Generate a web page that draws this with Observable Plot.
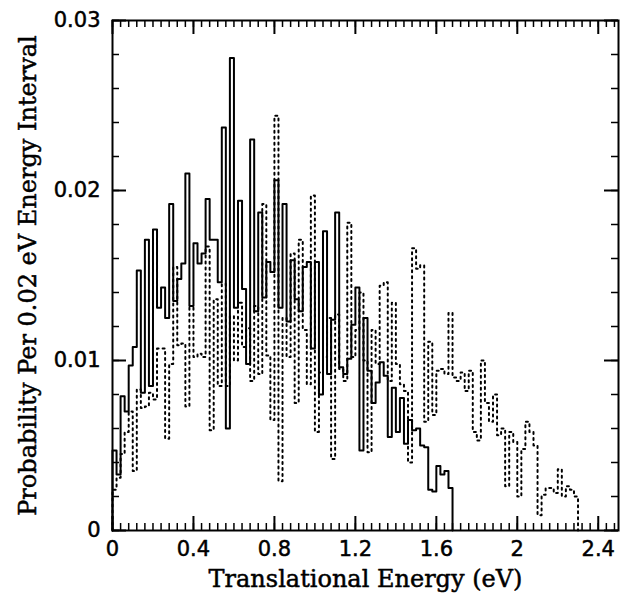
<!DOCTYPE html>
<html>
<head>
<meta charset="utf-8">
<script src="https://cdn.jsdelivr.net/npm/d3@7"></script>
<script src="https://cdn.jsdelivr.net/npm/@observablehq/plot@0.6"></script>
<style>
  html, body { margin: 0; padding: 0; background: #fff; }
</style>
</head>
<body>
<div id="chart"></div>
<script>
// Bin width (eV) of both histograms
const binWidth = 0.02;

// Solid histogram: probability per 0.02 eV bin, bins starting at 0, 0.02, 0.04 ...
const solidValues = [
  0.0047, 0.0033, 0.0079, 0.0070, 0.0097, 0.0108, 0.0153, 0.0081, 0.0171, 0.0085,
  0.0177, 0.0131, 0.0143, 0.0125, 0.0192, 0.0135, 0.0148, 0.0157, 0.0210, 0.0132,
  0.0169, 0.0157, 0.0163, 0.0195, 0.0171, 0.0171, 0.0146, 0.0237, 0.0060, 0.0278,
  0.0131, 0.0194, 0.0142, 0.0098, 0.0230, 0.0129, 0.0187, 0.0137, 0.0158, 0.0152,
  0.0206, 0.0131, 0.0192, 0.0123, 0.0159, 0.0136, 0.0129, 0.0155, 0.0158, 0.0107,
  0.0158, 0.0080, 0.0176, 0.0092, 0.0124, 0.0187, 0.0096, 0.0092, 0.0101, 0.0121,
  0.0143, 0.0047, 0.0125, 0.0094, 0.0075, 0.0087, 0.0099, 0.0091, 0.0055, 0.0084,
  0.0058, 0.0078, 0.0051, 0.0065, 0.0059, 0.0060, 0.0050, 0.0049, 0.0024, 0.0023,
  0.0038, 0.0033, 0.0035, 0.0025
];

// Dotted histogram: probability per 0.02 eV bin
const dottedValues = [
  0.0024, 0.0031, 0.0045, 0.0058, 0.0070, 0.0035, 0.0083, 0.0072, 0.0073, 0.0081,
  0.0077, 0.0107, 0.0107, 0.0054, 0.0098, 0.0155, 0.0109, 0.0110, 0.0073, 0.0131,
  0.0102, 0.0104, 0.0102, 0.0167, 0.0059, 0.0136, 0.0085, 0.0145, 0.0085, 0.0126,
  0.0100, 0.0134, 0.0108, 0.0119, 0.0088, 0.0132, 0.0092, 0.0192, 0.0103, 0.0065,
  0.0244, 0.0029, 0.0125, 0.0102, 0.0163, 0.0075, 0.0171, 0.0118, 0.0086, 0.0197,
  0.0058, 0.0093, 0.0102, 0.0125, 0.0042, 0.0127, 0.0095, 0.0088, 0.0181, 0.0102,
  0.0118, 0.0140, 0.0100, 0.0046, 0.0118, 0.0098, 0.0144, 0.0146, 0.0088, 0.0134,
  0.0098, 0.0086, 0.0082, 0.0040, 0.0166, 0.0154, 0.0156, 0.0064, 0.0111, 0.0068,
  0.0094, 0.0095, 0.0092, 0.0128, 0.0090, 0.0088, 0.0093, 0.0082, 0.0094, 0.0058,
  0.0053, 0.0100, 0.0075, 0.0064, 0.0080, 0.0056, 0.0060, 0.0026, 0.0058, 0.0052,
  0.0020, 0.0048, 0.0064, 0.0058, 0.0050, 0.0009, 0.0021, 0.0025, 0.0025, 0.0022,
  0.0036, 0.0020, 0.0026, 0.0024, 0.0020
];

// Axis ticks and labels
const xMajorTicks = [0, 0.4, 0.8, 1.2, 1.6, 2, 2.4];
const xMajorLabels = ["0", "0.4", "0.8", "1.2", "1.6", "2", "2.4"];
const xMinorTicks = d3.range(0, 63).map(i => +(i * 0.04).toFixed(2));
const yMajorTicks = [0, 0.01, 0.02, 0.03];
const yMajorLabels = ["0", "0.01", "0.02", "0.03"];
const yMinorTicks = d3.range(0, 16).map(i => +(i * 0.002).toFixed(3));

const xTitle = "Translational Energy (eV)";
const yTitle = "Probability Per 0.02 eV Energy Interval";

// Build step-outline points for a histogram
function steps(values) {
  const pts = [{x: 0, y: 0}];
  values.forEach((v, i) => pts.push({x: i * binWidth, y: v}));
  const end = values.length * binWidth;
  pts.push({x: end, y: values[values.length - 1]});
  pts.push({x: end, y: 0});
  return pts;
}

const W = 621, H = 595;
const mL = 112, mR = 3, mT = 20, mB = 65;
const frameH = H - mT - mB;   // 510
const frameW = W - mL - mR;   // 506
const majorLen = 14, minorLen = 7;

const labelStyle = {fill: "#000", stroke: "#000", strokeWidth: 0.5};

const chart = Plot.plot({
  width: W,
  height: H,
  marginLeft: mL,
  marginRight: mR,
  marginTop: mT,
  marginBottom: mB,
  x: {domain: [0, 2.5], axis: null},
  y: {domain: [0, 0.03], axis: null},
  style: {background: "#fff", color: "#000", overflow: "visible"},
  marks: [
    Plot.lineY(steps(dottedValues), {x: "x", y: "y", curve: "step-after", stroke: "#000", strokeWidth: 2, strokeDasharray: "2 4"}),
    Plot.lineY(steps(solidValues), {x: "x", y: "y", curve: "step-after", stroke: "#000", strokeWidth: 2}),
    // x ticks: bottom and top, inward
    Plot.ruleX(xMinorTicks, {x: d => d, insetTop: frameH - minorLen, stroke: "#000", strokeWidth: 1.5}),
    Plot.ruleX(xMinorTicks, {x: d => d, insetBottom: frameH - minorLen, stroke: "#000", strokeWidth: 1.5}),
    Plot.ruleX(xMajorTicks, {x: d => d, insetTop: frameH - majorLen, stroke: "#000", strokeWidth: 2}),
    Plot.ruleX(xMajorTicks, {x: d => d, insetBottom: frameH - majorLen, stroke: "#000", strokeWidth: 2}),
    // y ticks: left and right, inward
    Plot.ruleY(yMinorTicks, {y: d => d, insetRight: frameW - minorLen, stroke: "#000", strokeWidth: 1.5}),
    Plot.ruleY(yMinorTicks, {y: d => d, insetLeft: frameW - minorLen, stroke: "#000", strokeWidth: 1.5}),
    Plot.ruleY(yMajorTicks, {y: d => d, insetRight: frameW - majorLen, stroke: "#000", strokeWidth: 2}),
    Plot.ruleY(yMajorTicks, {y: d => d, insetLeft: frameW - majorLen, stroke: "#000", strokeWidth: 2}),
    Plot.frame({stroke: "#000", strokeWidth: 2}),
    // tick labels
    Plot.text(xMajorTicks, {x: d => d, frameAnchor: "bottom", dy: 25, textAnchor: "middle", text: (d, i) => xMajorLabels[i],
      fontSize: 21, fontFamily: "DejaVu Sans", ...labelStyle}),
    Plot.text(yMajorTicks, {y: d => d, frameAnchor: "left", dx: -12, textAnchor: "end", text: (d, i) => yMajorLabels[i],
      fontSize: 21, fontFamily: "DejaVu Sans", ...labelStyle}),
    // axis titles
    Plot.text([xTitle], {frameAnchor: "bottom", dy: 56, textAnchor: "middle", text: d => d,
      fontSize: 24, fontFamily: "DejaVu Serif", ...labelStyle}),
    Plot.text([yTitle], {frameAnchor: "left", dx: -84, rotate: -90, textAnchor: "middle", text: d => d,
      fontSize: 24, fontFamily: "DejaVu Serif", ...labelStyle})
  ]
});

document.getElementById("chart").appendChild(chart);
</script>
</body>
</html>
